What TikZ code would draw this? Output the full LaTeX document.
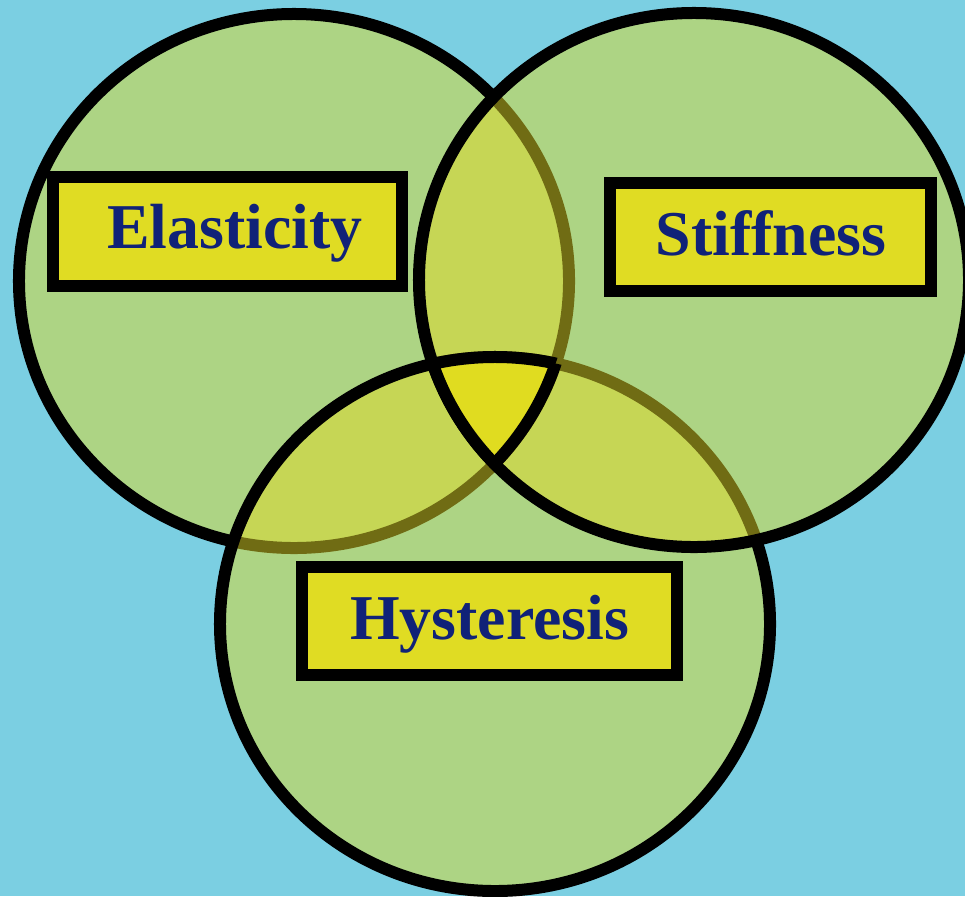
\documentclass[tikz,border=0pt]{standalone}
\usepackage{fontspec}
\setmainfont{Liberation Serif}
\definecolor{bgblue}{RGB}{123,207,226}
\definecolor{circfill}{RGB}{224,217,40}
\definecolor{centeryellow}{RGB}{224,220,32}
\definecolor{boxyellow}{RGB}{224,220,35}
\definecolor{navytext}{RGB}{16,34,120}
\begin{document}
\begin{tikzpicture}[x=0.03cm,y=-0.03cm,
  circ/.style={fill=circfill,fill opacity=0.5,draw=black,draw opacity=1,line width=0.36cm},
  ring/.style={draw=black,line width=0.36cm},
  labelbox/.style={draw=black,fill=boxyellow,line width=0.36cm,inner sep=0pt},
  labeltext/.style={anchor=base,text=navytext,font=\fontsize{54.5}{60}\selectfont\bfseries,inner sep=0pt},
  ell/.style={x radius=8.25cm,y radius=8.01cm}]
\fill[bgblue] (0,0) rectangle (965,896);
\useasboundingbox (0,0) rectangle (965,896);
\coordinate (L) at (294,281);
\coordinate (R) at (694,280);
\coordinate (B) at (495,624);
% circles in drawing order
\path[circ] (L) ellipse[ell];
\path[circ] (B) ellipse[ell];
\path[circ] (R) ellipse[ell];
% central triple overlap
\begin{scope}
  \clip (L) ellipse[ell];
  \clip (R) ellipse[ell];
  \fill[centeryellow] (B) ellipse[ell];
\end{scope}
\begin{scope}
  \clip (L) ellipse[ell];
  \clip (R) ellipse[ell];
  \path[ring] (B) ellipse[ell];
\end{scope}
\begin{scope}
  \clip (L) ellipse[ell];
  \clip (B) ellipse[ell];
  \path[ring] (R) ellipse[ell];
\end{scope}
\begin{scope}
  \clip (R) ellipse[ell];
  \clip (B) ellipse[ell];
  \path[ring] (L) ellipse[ell];
\end{scope}
% label boxes
\node[labelbox,minimum width=349*0.03cm,minimum height=109*0.03cm] (ebox) at (227.5,231.5) {};
\node[labelbox,minimum width=321*0.03cm,minimum height=108*0.03cm] (sbox) at (770.5,237) {};
\node[labelbox,minimum width=375*0.03cm,minimum height=108*0.03cm] (hbox) at (489.5,621) {};
\node[labeltext] (etext) at (235,248) {Elasticity};
\node[labeltext] (stext) at (771,255) {Stiffness};
\node[labeltext] (htext) at (489.5,639) {Hysteresis};
\end{tikzpicture}
\end{document}
